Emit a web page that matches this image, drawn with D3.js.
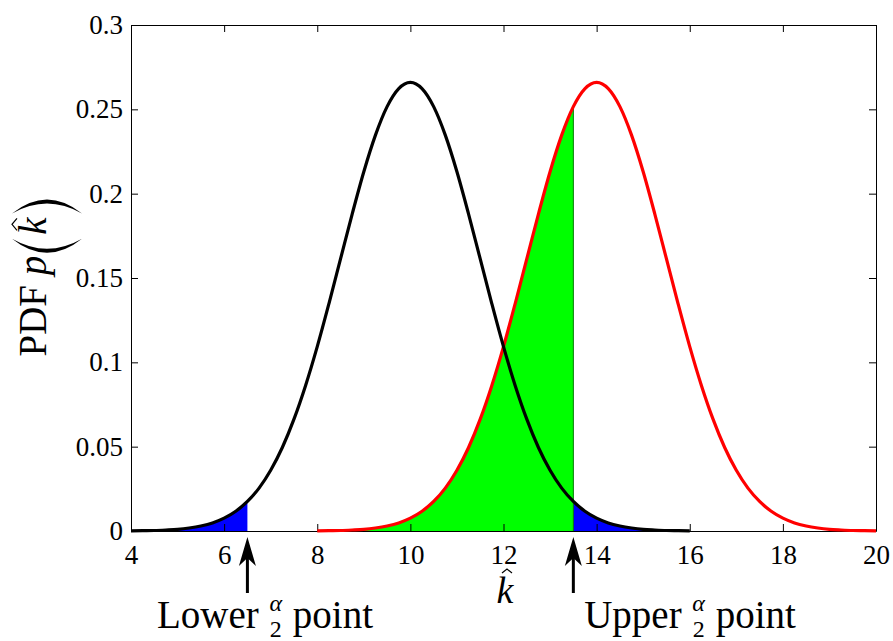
<!DOCTYPE html>
<html>
<head>
<meta charset="utf-8">
<script src="https://cdn.jsdelivr.net/npm/d3@7"></script>
<style>
  body { margin: 0; background: #fff; }
  svg { display: block; }
  text { font-family: "Liberation Serif", "Times New Roman", serif; fill: #000; }
</style>
</head>
<body>
<svg id="chart" width="893" height="641"></svg>
<script>
// values
const blackK = [4,4.25,4.5,4.75,5,5.25,5.5,5.75,6,6.25,6.5,6.75,7,7.25,7.5,7.75,8,8.25,8.5,8.75,9,9.25,9.5,9.75,10,
  10.25,10.5,10.75,11,11.25,11.5,11.75,12,12.25,12.5,12.75,13,13.25,13.5,13.75,14,14.25,14.5,14.75,15,15.25,15.5,15.75,16];
const blackPdf = [0.0001,0.0002,0.0003,0.0006,0.0010,0.0018,0.0030,0.0048,0.0076,0.0117,0.0175,0.0254,0.0360,0.0495,0.0663,0.0863,
  0.1093,0.1347,0.1613,0.1879,0.2130,0.2347,0.2516,0.2623,0.2660,0.2623,0.2516,0.2347,0.2130,0.1879,0.1613,0.1347,0.1093,
  0.0863,0.0663,0.0495,0.0360,0.0254,0.0175,0.0117,0.0076,0.0048,0.0030,0.0018,0.0010,0.0006,0.0003,0.0002,0.0001];
const redK = [8,8.25,8.5,8.75,9,9.25,9.5,9.75,10,10.25,10.5,10.75,11,11.25,11.5,11.75,12,12.25,12.5,12.75,13,13.25,13.5,13.75,14,
  14.25,14.5,14.75,15,15.25,15.5,15.75,16,16.25,16.5,16.75,17,17.25,17.5,17.75,18,18.25,18.5,18.75,19,19.25,19.5,19.75,20];
const redPdf = [0.0001,0.0002,0.0003,0.0006,0.0010,0.0018,0.0030,0.0048,0.0076,0.0117,0.0175,0.0254,0.0360,0.0495,0.0663,0.0863,
  0.1093,0.1347,0.1613,0.1879,0.2130,0.2347,0.2516,0.2623,0.2660,0.2623,0.2516,0.2347,0.2130,0.1879,0.1613,0.1347,0.1093,
  0.0863,0.0663,0.0495,0.0360,0.0254,0.0175,0.0117,0.0076,0.0048,0.0030,0.0018,0.0010,0.0006,0.0003,0.0002,0.0001];
const lowerPoint = 6.5;
const upperPoint = 13.5;
const xTicks = [4,6,8,10,12,14,16,18,20];
const yTicks = [0,0.05,0.1,0.15,0.2,0.25,0.3];
const yTickLabels = ["0","0.05","0.1","0.15","0.2","0.25","0.3"];

const svg = d3.select("#chart");
const mLeft = 131, mRight = 876, mTop = 25, mBottom = 531;

const x = d3.scaleLinear().domain([4, 20]).range([mLeft, mRight]);
const y = d3.scaleLinear().domain([0, 0.3]).range([mBottom, mTop]);

const black = blackK.map((k,i)=> ({k, p: blackPdf[i]}));
const red = redK.map((k,i)=> ({k, p: redPdf[i]}));

const area = d3.area().x(d=> x(d.k)).y0(y(0)).y1(d=> y(d.p)).curve(d3.curveMonotoneX);
const line = d3.line().x(d=> x(d.k)).y(d=> y(d.p)).curve(d3.curveMonotoneX);

// fills
svg.append("path").datum(red.filter(d=> d.k <= upperPoint)).attr("d", area).attr("fill", "#00ff00");
svg.append("path").datum(black.filter(d=> d.k <= lowerPoint)).attr("d", area).attr("fill", "#0000ff");
svg.append("path").datum(black.filter(d=> d.k >= upperPoint)).attr("d", area).attr("fill", "#0000ff");
const redAtUpper = red.find(d=> d.k === upperPoint).p;
svg.append("line").attr("x1", x(upperPoint)).attr("x2", x(upperPoint))
  .attr("y1", y(0)).attr("y2", y(redAtUpper)).attr("stroke", "#007a00").attr("stroke-width", 1);

// axes (box with inward ticks)
function styleAxis(g) {
  g.selectAll("path.domain").attr("stroke", "#000").attr("stroke-width", 1);
  g.selectAll(".tick line").attr("stroke", "#000");
  g.selectAll("text").attr("font-size", "27px").attr("font-family", "'Liberation Serif', serif").attr("fill", "#000");
}
svg.append("g").attr("transform", `translate(0,${mBottom})`)
  .call(d3.axisBottom(x).tickValues(xTicks).tickSizeInner(-7).tickSizeOuter(0).tickPadding(14).tickFormat(d3.format("d")))
  .call(styleAxis);
svg.append("g").attr("transform", `translate(0,${mTop})`)
  .call(d3.axisTop(x).tickValues(xTicks).tickSizeInner(-7).tickSizeOuter(0).tickFormat(""))
  .call(styleAxis);
svg.append("g").attr("transform", `translate(${mLeft},0)`)
  .call(d3.axisLeft(y).tickValues(yTicks).tickSizeInner(-7).tickSizeOuter(0).tickPadding(8).tickFormat((d,i)=> yTickLabels[i]))
  .call(styleAxis);
svg.append("g").attr("transform", `translate(${mRight},0)`)
  .call(d3.axisRight(y).tickValues(yTicks).tickSizeInner(-7).tickSizeOuter(0).tickFormat(""))
  .call(styleAxis);

// curves
svg.append("path").datum(red).attr("d", line).attr("fill", "none").attr("stroke", "#ff0000").attr("stroke-width", 3.2);
svg.append("path").datum(black).attr("d", line).attr("fill", "none").attr("stroke", "#000").attr("stroke-width", 3.2);

// arrows under the axis
[lowerPoint, upperPoint].forEach(v=> {
  const ax = x(v), tip = 537, headLen = 29, headW = 8.5, shaftEnd = 593;
  svg.append("line").attr("x1", ax).attr("x2", ax).attr("y1", tip + 10).attr("y2", shaftEnd)
    .attr("stroke", "#000").attr("stroke-width", 3);
  svg.append("path")
    .attr("d", `M${ax},${tip} L${ax+headW},${tip+headLen} L${ax},${tip+headLen-8} L${ax-headW},${tip+headLen} Z`)
    .attr("fill", "#000");
});

// hat helper
function hat(g, cx, cy, hw, hh) {
  g.append("path").attr("d", `M${cx-hw},${cy} L${cx},${cy-hh} L${cx+hw},${cy}`)
    .attr("fill", "none").attr("stroke", "#000").attr("stroke-width", 1.2);
}

// x label
svg.append("text").attr("x", 505).attr("y", 603).attr("text-anchor", "middle")
  .attr("font-size", "38px").attr("font-style", "italic").text("k");
hat(svg, 507, 573, 5, 4);

// bottom labels "Lower α/2 point"
function pointLabel(cx, word) {
  const g = svg.append("g");
  const fs = 39, base = 628, gap = 10;
  const t1 = g.append("text").attr("y", base).attr("font-size", fs + "px").text(word);
  const w1 = t1.node().getComputedTextLength();
  const fr = g.append("text").attr("font-size", "24px").attr("text-anchor", "middle");
  const a = fr.append("tspan").attr("y", 611).attr("font-style", "italic").text("α");
  const two = fr.append("tspan").attr("y", 637).text("2");
  const wf = 14;
  const t2 = g.append("text").attr("y", base).attr("font-size", fs + "px").text("point");
  const w2 = t2.node().getComputedTextLength();
  const total = w1 + gap + wf + gap + w2;
  const x0 = cx - total / 2;
  t1.attr("x", x0);
  a.attr("x", x0 + w1 + gap + wf / 2);
  two.attr("x", x0 + w1 + gap + wf / 2);
  t2.attr("x", x0 + w1 + gap + wf + gap);
}
pointLabel(265, "Lower");
pointLabel(690, "Upper");

// y label "PDF p(k̂)" rotated
const yl = svg.append("g").attr("transform", `translate(46,${(mTop + mBottom) / 2}) rotate(-90)`);
const inner = yl.append("g");
const tl = inner.append("text").attr("x", 0).attr("y", 0).attr("font-size", "39px");
tl.append("tspan").text("PDF ");
tl.append("tspan").attr("font-style", "italic").text("p");
const wl = tl.node().getComputedTextLength();
function paren(g, u, open) {
  const bow = 14, t0 = -34, t1 = 36, mid = (t0 + t1) / 2, th = 4;
  const d = open
    ? `M${u+bow},${t0} Q${u-bow},${mid} ${u+bow},${t1} Q${u-bow+th*2},${mid} ${u+bow},${t0} Z`
    : `M${u},${t0} Q${u+2*bow},${mid} ${u},${t1} Q${u+2*bow-th*2},${mid} ${u},${t0} Z`;
  g.append("path").attr("d", d).attr("fill", "#000");
}
const pOpen = wl + 3;
paren(inner, pOpen, true);
const kx = pOpen + 18;
const kt = inner.append("text").attr("x", kx).attr("y", 0).attr("font-size", "39px").attr("font-style", "italic").text("k");
const wk = kt.node().getComputedTextLength();
hat(inner, kx + wk * 0.6, -29, 6, 5);
const pClose = kx + wk + 4;
paren(inner, pClose, false);
const totalY = pClose + 14;
inner.attr("transform", `translate(${-totalY / 2},0)`);
</script>
</body>
</html>
